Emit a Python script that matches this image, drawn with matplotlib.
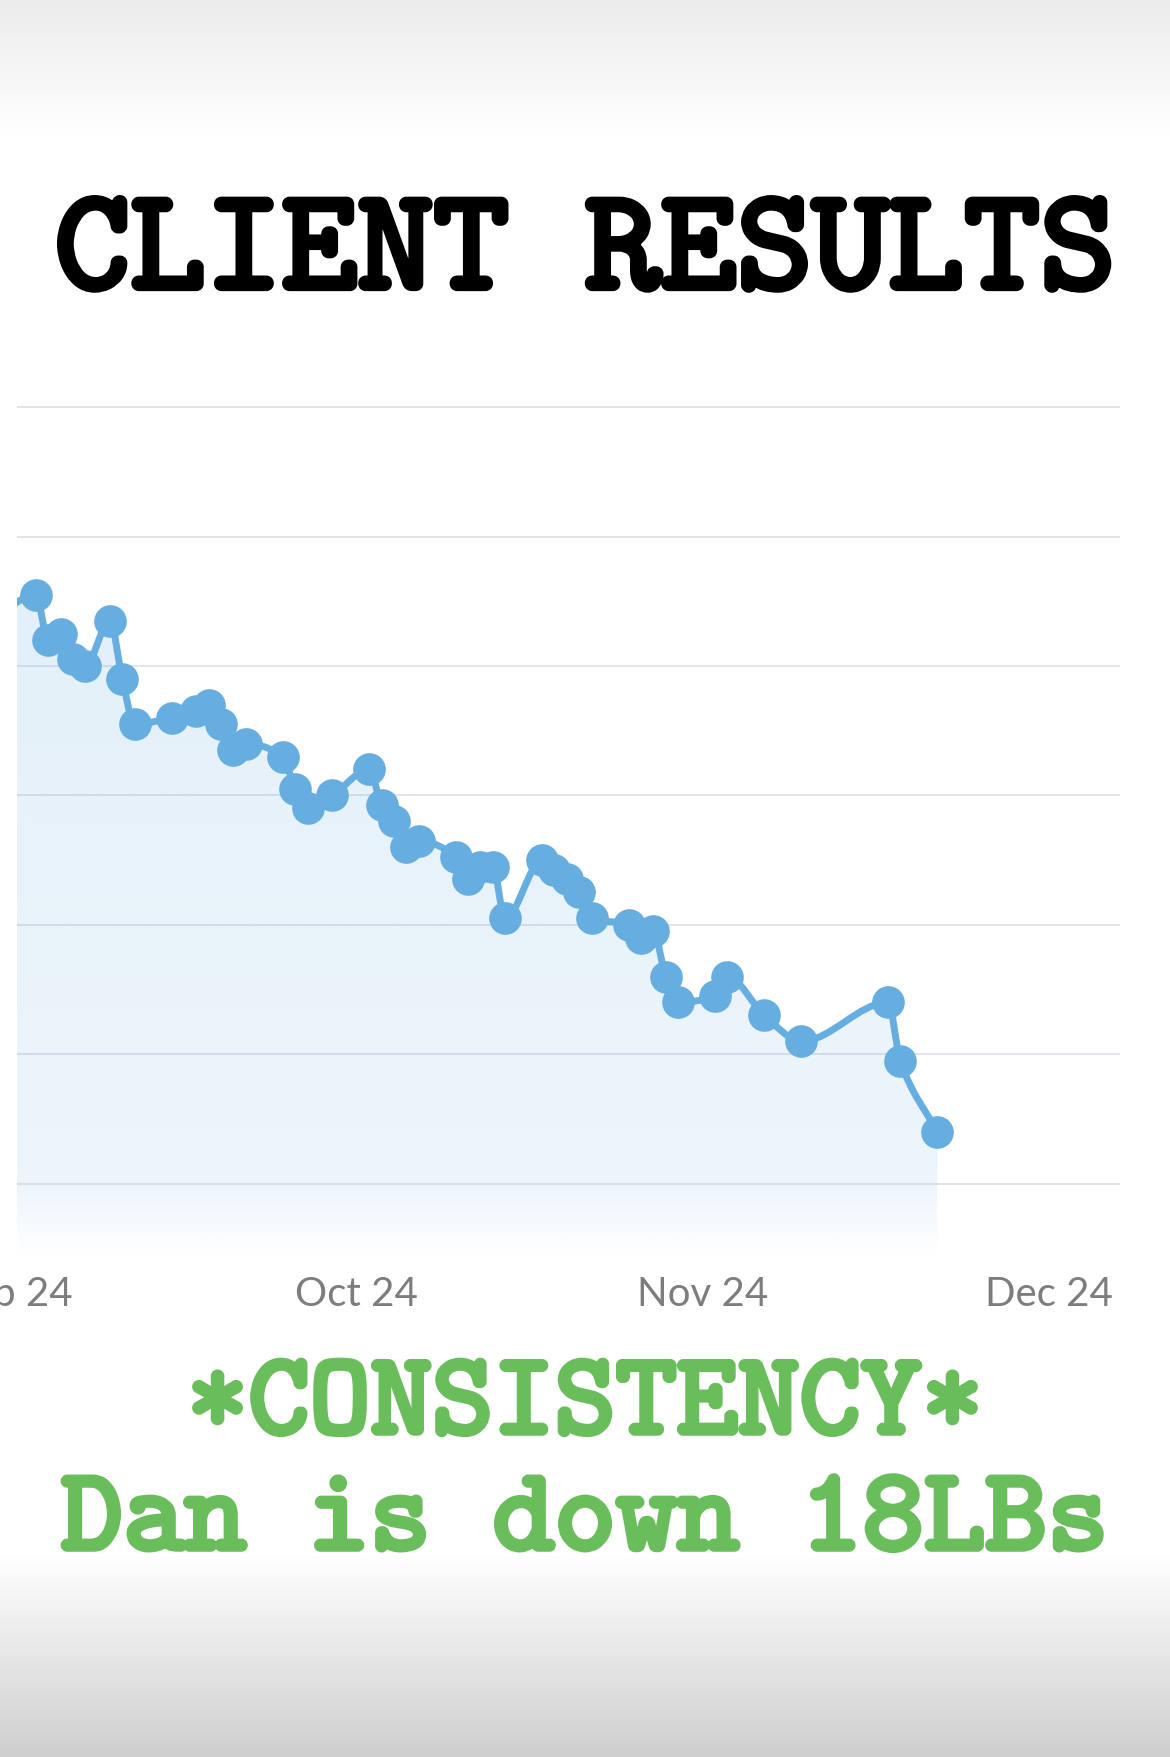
import numpy as np
import matplotlib
matplotlib.use('Agg')
import matplotlib.pyplot as plt
import matplotlib.dates as mdates
import matplotlib.transforms as mtransforms
import matplotlib.patheffects as pe
from matplotlib.path import Path
from matplotlib.patches import PathPatch

# ---------------- data ----------------
weigh_dates = ['2024-09-07', '2024-09-10', '2024-09-11', '2024-09-12',
               '2024-09-13', '2024-09-14', '2024-09-16', '2024-09-17',
               '2024-09-18', '2024-09-21', '2024-09-23', '2024-09-24',
               '2024-09-25', '2024-09-26', '2024-09-27', '2024-09-30',
               '2024-10-01', '2024-10-02', '2024-10-04', '2024-10-07',
               '2024-10-08', '2024-10-09', '2024-10-10', '2024-10-11',
               '2024-10-14', '2024-10-15', '2024-10-16', '2024-10-17',
               '2024-10-18', '2024-10-21', '2024-10-22', '2024-10-23',
               '2024-10-24', '2024-10-25', '2024-10-28', '2024-10-29',
               '2024-10-30', '2024-10-31', '2024-11-01', '2024-11-04',
               '2024-11-05', '2024-11-08', '2024-11-11', '2024-11-18',
               '2024-11-19', '2024-11-22']
weights = [233.6, 234.2, 232.8, 233.0, 232.2, 232.0, 233.4, 231.6,
           230.2, 230.4, 230.6, 230.8, 230.2, 229.4, 229.6, 229.2,
           228.2, 227.6, 228.0, 228.8, 227.7, 227.2, 226.4, 226.6,
           226.1, 225.4, 225.8, 225.8, 224.2, 226.0, 225.7, 225.4,
           225.0, 224.2, 224.0, 223.6, 223.8, 222.4, 221.6, 221.8,
           222.4, 221.2, 220.4, 221.6, 219.8, 217.6]
grid_values = [216, 220, 224, 228, 232, 236, 240]
tick_dates = ['2024-09-08', '2024-10-06', '2024-11-03', '2024-12-01']
tick_labels = ['Sep 24', 'Oct 24', 'Nov 24', 'Dec 24']
title = 'CLIENT RESULTS'
caption_1 = '*CONSISTENCY*'
caption_2 = 'Dan is down 18LBs'

# ---------------- style ----------------
W, H = 1170, 1758
line_color = '#66ade0'
grid_color = '#e3e4ea'
label_color = '#7d7d7d'
green = '#69bd5b'
mono = ['cmtt10', 'Liberation Mono']


def monotone_path(x, y):
    """cubic bezier path through the points (monotone tangents)"""
    h = np.diff(x)
    d = np.diff(y) / h
    m = np.zeros_like(y)
    m[0], m[-1] = d[0], d[-1]
    for k in range(1, len(y) - 1):
        if d[k - 1] * d[k] > 0:
            w1 = 2 * h[k] + h[k - 1]
            w2 = h[k] + 2 * h[k - 1]
            m[k] = (w1 + w2) / (w1 / d[k - 1] + w2 / d[k])
    verts = [(x[0], y[0])]
    codes = [Path.MOVETO]
    for k in range(len(x) - 1):
        verts += [(x[k] + h[k] / 3, y[k] + m[k] * h[k] / 3),
                  (x[k + 1] - h[k] / 3, y[k + 1] - m[k + 1] * h[k] / 3),
                  (x[k + 1], y[k + 1])]
        codes += [Path.CURVE4] * 3
    return verts, codes


fig = plt.figure(figsize=(W / 100, H / 100), dpi=100)
fig.patch.set_facecolor('white')

# page background: grey fade at top and bottom
bg = fig.add_axes([0, 0, 1, 1], zorder=-5)
rows = np.arange(H)
shade = np.interp(rows, [0, 135, 1555, H - 1], [0.925, 1.0, 1.0, 0.81])
bg.imshow(np.repeat(shade[:, None], 3, axis=1)[:, None, :].repeat(2, axis=1),
          extent=[0, 1, 0, 1], aspect='auto')
bg.set_axis_off()

# chart axes
ax_left, ax_right = 16.8 / W, 1119.6 / W
ax_top, ax_bot = 400 / H, 1261 / H
ax = fig.add_axes([ax_left, 1 - ax_bot, ax_right - ax_left, ax_bot - ax_top])
ax.set_facecolor('none')
for s in ax.spines.values():
    s.set_visible(False)
ax.set_xticks([])
ax.set_yticks([])

x = mdates.date2num(np.array(weigh_dates, dtype='datetime64[D]'))
y = np.array(weights)
ticks_x = mdates.date2num(np.array(tick_dates, dtype='datetime64[D]'))

oct_tick = ticks_x[1]
x_lo, x_hi = oct_tick - 27.54, oct_tick + 61.76
y_hi = grid_values[-1] + 0.25
y_lo = grid_values[-1] - (1261 - 408) / 32.36

for g in grid_values:
    ax.axhline(g, color=grid_color, lw=1.4, zorder=0)

verts, codes = monotone_path(x, y)

# gradient fill under the curve
fill_verts = verts + [(x[-1], y_lo), (x[0], y_lo), (x[0], y[0])]
fill_codes = codes + [Path.LINETO, Path.LINETO, Path.CLOSEPOLY]
clip = PathPatch(Path(fill_verts, fill_codes), transform=ax.transData,
                 facecolor='none', edgecolor='none')
ax.add_patch(clip)
yy = np.linspace(y_lo, y.max(), 400)
alpha = np.interp(yy, [y_lo, grid_values[0], y.max()], [0.0, 0.12, 0.18])
rgba = np.zeros((len(yy), 2, 4))
rgba[..., :3] = matplotlib.colors.to_rgb(line_color)
rgba[..., 3] = alpha[:, None]
im = ax.imshow(rgba, extent=[x[0], x[-1], y_lo, y.max()], origin='lower',
               aspect='auto', zorder=1, interpolation='bilinear')
im.set_clip_path(clip)

# curve and markers
ax.add_patch(PathPatch(Path(verts, codes), facecolor='none',
                       edgecolor=line_color, lw=5.0, zorder=3,
                       capstyle='round', joinstyle='round'))
ax.plot(x, y, 'o', ms=23.5, color=line_color, mew=0, zorder=4)

ax.set_xlim(x_lo, x_hi)
ax.set_ylim(y_lo, y_hi)

# month labels under the chart
trans = mtransforms.blended_transform_factory(ax.transData, fig.transFigure)
for tx, tl in zip(ticks_x, tick_labels):
    ax.text(tx, 1 - 1306 / H, tl, transform=trans, ha='center',
            va='baseline', fontsize=29, color=label_color,
            family=['Lato', 'DejaVu Sans'], fontweight='normal',
            clip_on=False)

# headline and caption (typewriter face, thickened with a stroke)
fig.text(0.5, 1 - 289 / H, title, ha='center', va='baseline',
         fontsize=104, family=mono, color='black',
         path_effects=[pe.withStroke(linewidth=4.5, foreground='black')])
fig.text(0.5, 1 - 1434 / H, caption_1, ha='center', va='baseline',
         fontsize=84, family=mono, color=green,
         path_effects=[pe.withStroke(linewidth=4, foreground=green)])
fig.text(0.5, 1 - 1550 / H, caption_2, ha='center', va='baseline',
         fontsize=84.5, family=mono, color=green,
         path_effects=[pe.withStroke(linewidth=4, foreground=green)])

fig.savefig('out.png', dpi=100)
